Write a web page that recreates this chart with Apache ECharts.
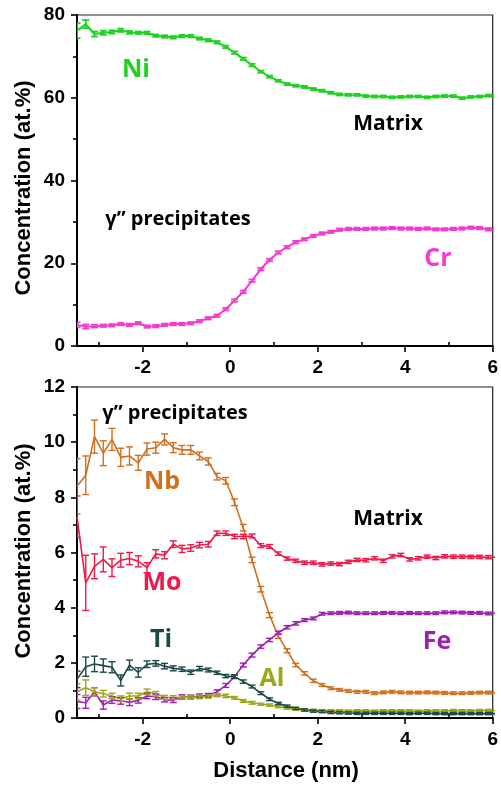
<!DOCTYPE html>
<html>
<head>
<meta charset="utf-8">
<script src="https://cdn.jsdelivr.net/npm/echarts@6.0.0/dist/echarts.min.js"></script>
<style>
  html, body { margin: 0; padding: 0; background: #fff; }
  #chart { width: 501px; height: 789px; }
</style>
</head>
<body>
<div id="chart"></div>
<script>
// Distance along the profile (nm)
const distance = [-3.5, -3.3, -3.1, -2.9, -2.7, -2.5, -2.3, -2.1, -1.9, -1.7, -1.5, -1.3, -1.1, -0.9, -0.7, -0.5, -0.3, -0.1,
  0.1, 0.3, 0.5, 0.7, 0.9, 1.1, 1.3, 1.5, 1.7, 1.9, 2.1, 2.3, 2.5, 2.7, 2.9, 3.1, 3.3, 3.5, 3.7, 3.9,
  4.1, 4.3, 4.5, 4.7, 4.9, 5.1, 5.3, 5.5, 5.7, 5.9, 6.1];

// Major elements (at.%)
const ni = [76.2, 77.8, 75.4, 75.7, 75.9, 76.3, 75.8, 75.7, 75.7, 75.0, 74.8, 74.6, 74.9, 74.9, 74.3, 73.9, 73.4, 72.3,
  70.9, 69.4, 67.9, 66.3, 65.1, 64.1, 63.3, 62.9, 62.6, 62.1, 61.7, 61.2, 60.8, 60.7, 60.7, 60.4, 60.3, 60.3, 60.1, 60.2,
  60.3, 60.3, 60.1, 60.3, 60.4, 60.4, 59.9, 60.2, 60.3, 60.5, 60.5];
const niErr = [1.8, 1.0, 0.6, 0.5, 0.4, 0.4, 0.35, 0.3, 0.3, 0.3, 0.3, 0.3, 0.3, 0.3, 0.3, 0.3, 0.3, 0.3,
  0.3, 0.3, 0.3, 0.25, 0.25, 0.25, 0.25, 0.25, 0.25, 0.25, 0.25, 0.25, 0.25, 0.25, 0.25, 0.25, 0.25, 0.25, 0.25, 0.25,
  0.25, 0.25, 0.25, 0.25, 0.25, 0.25, 0.25, 0.25, 0.25, 0.25, 0.25];
const cr = [5.1, 4.7, 4.8, 4.9, 5.0, 5.3, 5.1, 5.5, 4.7, 4.8, 5.1, 5.3, 5.3, 5.5, 6.0, 6.7, 7.3, 8.9,
  11.0, 13.1, 15.8, 18.6, 20.8, 22.6, 23.9, 25.1, 25.8, 26.6, 27.2, 27.6, 28.1, 28.3, 28.3, 28.3, 28.4, 28.4, 28.5, 28.4,
  28.4, 28.3, 28.4, 28.2, 28.2, 28.3, 28.4, 28.6, 28.5, 28.2, 28.1];
const crErr = [0.6, 0.5, 0.35, 0.3, 0.3, 0.3, 0.3, 0.3, 0.3, 0.3, 0.3, 0.3, 0.3, 0.3, 0.3, 0.3, 0.3, 0.3,
  0.3, 0.3, 0.3, 0.3, 0.3, 0.3, 0.3, 0.3, 0.3, 0.3, 0.3, 0.3, 0.3, 0.3, 0.3, 0.3, 0.3, 0.3, 0.3, 0.3,
  0.3, 0.3, 0.3, 0.3, 0.3, 0.3, 0.3, 0.3, 0.3, 0.3, 0.3];

// Minor elements (at.%)
const nb = [8.4, 8.8, 10.2, 9.6, 10.1, 9.45, 9.5, 9.25, 9.75, 9.8, 10.1, 9.8, 9.72, 9.72, 9.5, 9.3, 8.75, 8.6,
  7.82, 6.9, 5.73, 4.67, 3.73, 2.97, 2.44, 1.92, 1.62, 1.35, 1.2, 1.08, 1.02, 0.98, 0.95, 0.95, 0.9, 0.93, 0.95, 0.93,
  0.92, 0.92, 0.93, 0.92, 0.91, 0.9, 0.9, 0.91, 0.92, 0.92, 0.92];
const nbErr = [1.0, 0.7, 0.6, 0.45, 0.4, 0.33, 0.33, 0.27, 0.22, 0.2, 0.2, 0.18, 0.16, 0.16, 0.14, 0.13, 0.12, 0.12,
  0.12, 0.12, 0.1, 0.1, 0.09, 0.08, 0.07, 0.06, 0.06, 0.06, 0.05, 0.05, 0.05, 0.05, 0.05, 0.05, 0.05, 0.05, 0.05, 0.05,
  0.05, 0.05, 0.05, 0.05, 0.05, 0.05, 0.05, 0.05, 0.05, 0.05, 0.05];
const mo = [7.3, 4.9, 5.5, 5.75, 5.45, 5.72, 5.78, 5.68, 5.45, 5.95, 5.9, 6.3, 6.13, 6.16, 6.27, 6.3, 6.7, 6.7,
  6.58, 6.58, 6.6, 6.25, 6.22, 5.96, 5.78, 5.7, 5.63, 5.63, 5.57, 5.6, 5.58, 5.66, 5.73, 5.72, 5.79, 5.7, 5.86, 5.91,
  5.75, 5.79, 5.85, 5.8, 5.86, 5.85, 5.85, 5.84, 5.84, 5.83, 5.83];
const moErr = [0.75, 1.0, 0.45, 0.45, 0.32, 0.25, 0.22, 0.2, 0.18, 0.15, 0.13, 0.12, 0.13, 0.12, 0.1, 0.1, 0.08, 0.08,
  0.08, 0.08, 0.07, 0.07, 0.07, 0.06, 0.06, 0.06, 0.06, 0.06, 0.06, 0.06, 0.06, 0.06, 0.06, 0.06, 0.06, 0.06, 0.06, 0.06,
  0.06, 0.06, 0.06, 0.06, 0.06, 0.06, 0.06, 0.06, 0.06, 0.06, 0.06];
const ti = [1.4, 1.86, 1.96, 1.9, 1.84, 1.36, 1.92, 1.65, 1.95, 1.98, 1.88, 1.8, 1.77, 1.66, 1.79, 1.74, 1.64, 1.52,
  1.5, 1.32, 1.14, 0.9, 0.68, 0.53, 0.43, 0.35, 0.29, 0.25, 0.23, 0.2, 0.19, 0.18, 0.17, 0.17, 0.17, 0.17, 0.17, 0.17,
  0.16, 0.17, 0.17, 0.16, 0.16, 0.16, 0.16, 0.16, 0.16, 0.16, 0.16];
const tiErr = [0.3, 0.35, 0.28, 0.24, 0.2, 0.2, 0.18, 0.17, 0.12, 0.1, 0.1, 0.09, 0.08, 0.08, 0.08, 0.07, 0.06, 0.06,
  0.06, 0.06, 0.05, 0.05, 0.05, 0.04, 0.04, 0.04, 0.04, 0.04, 0.04, 0.04, 0.04, 0.04, 0.04, 0.04, 0.04, 0.04, 0.04, 0.04,
  0.04, 0.04, 0.04, 0.04, 0.04, 0.04, 0.04, 0.04, 0.04, 0.04, 0.04];
const al = [0.95, 1.1, 0.95, 0.88, 0.8, 0.7, 0.8, 0.8, 0.95, 0.88, 0.75, 0.74, 0.75, 0.76, 0.76, 0.78, 0.83, 0.8,
  0.73, 0.62, 0.55, 0.5, 0.47, 0.41, 0.36, 0.32, 0.3, 0.28, 0.27, 0.26, 0.26, 0.25, 0.26, 0.26, 0.25, 0.26, 0.26, 0.26,
  0.26, 0.25, 0.26, 0.26, 0.26, 0.27, 0.26, 0.26, 0.27, 0.27, 0.27];
const alErr = [0.3, 0.28, 0.15, 0.12, 0.1, 0.1, 0.1, 0.1, 0.1, 0.08, 0.07, 0.07, 0.06, 0.06, 0.06, 0.06, 0.06, 0.06,
  0.05, 0.05, 0.05, 0.04, 0.04, 0.04, 0.04, 0.04, 0.04, 0.04, 0.04, 0.04, 0.04, 0.04, 0.04, 0.04, 0.04, 0.04, 0.04, 0.04,
  0.04, 0.04, 0.04, 0.04, 0.04, 0.04, 0.04, 0.04, 0.04, 0.04, 0.04];
const fe = [0.6, 0.55, 0.95, 0.47, 0.65, 0.62, 0.57, 0.64, 0.8, 0.77, 0.66, 0.64, 0.76, 0.76, 0.8, 0.82, 0.95, 1.18,
  1.5, 1.92, 2.28, 2.59, 2.83, 3.09, 3.29, 3.43, 3.55, 3.61, 3.78, 3.8, 3.81, 3.82, 3.8, 3.8, 3.8, 3.81, 3.81, 3.8,
  3.81, 3.8, 3.8, 3.8, 3.83, 3.83, 3.82, 3.81, 3.81, 3.79, 3.8];
const feErr = [0.25, 0.2, 0.15, 0.15, 0.12, 0.12, 0.12, 0.1, 0.1, 0.1, 0.08, 0.08, 0.08, 0.07, 0.07, 0.07, 0.07, 0.07,
  0.07, 0.07, 0.07, 0.06, 0.06, 0.06, 0.06, 0.06, 0.05, 0.05, 0.05, 0.05, 0.05, 0.05, 0.05, 0.05, 0.05, 0.05, 0.05, 0.05,
  0.05, 0.05, 0.05, 0.05, 0.05, 0.05, 0.05, 0.05, 0.05, 0.05, 0.05];

// Axis ticks
const xMajorTicks = [-2, 0, 2, 4, 6];
const xMinorTicks = [-3, -1, 1, 3, 5];

const COLORS = {
  Ni: '#1fd21f', Cr: '#f53ad0', Nb: '#d0701e', Mo: '#f01848',
  Ti: '#1b4a48', Al: '#9ea616', Fe: '#a01eb4'
};

const TICK_FONT = { fontFamily: 'Liberation Sans, Arial, sans-serif', fontWeight: 'bold', fontSize: 19, color: '#000' };
const LABEL_FONT = '"Open Sans", sans-serif';

function xAxesFor(gridIndex) {
  return [
    {
      type: 'value', gridIndex, min: -3.5, max: 6,
      axisLine: { show: true, onZero: false, lineStyle: { color: '#000', width: 2 } },
      axisTick: { show: true, customValues: xMajorTicks, length: 6, lineStyle: { color: '#000', width: 1.6 } },
      axisLabel: Object.assign({ customValues: xMajorTicks, margin: 12 }, TICK_FONT),
      splitLine: { show: false }
    },
    {
      type: 'value', gridIndex, min: -3.5, max: 6,
      axisLine: { show: false },
      axisTick: { show: true, customValues: xMinorTicks, length: 4, lineStyle: { color: '#000', width: 1.6 } },
      axisLabel: { show: false },
      splitLine: { show: false }
    }
  ];
}

function yAxisFor(gridIndex, max, interval) {
  return {
    type: 'value', gridIndex, min: 0, max, interval,
    axisLine: { show: true, onZero: false, lineStyle: { color: '#000', width: 2 } },
    axisTick: { show: true, length: 6, lineStyle: { color: '#000', width: 1.6 } },
    minorTick: { show: true, splitNumber: 2, length: 4, lineStyle: { color: '#000', width: 1.6 } },
    axisLabel: Object.assign({ margin: 12 }, TICK_FONT),
    splitLine: { show: false },
    minorSplitLine: { show: false }
  };
}

function lineSeries(name, values, xAxisIndex, yAxisIndex, width) {
  return {
    name, type: 'line', xAxisIndex, yAxisIndex,
    data: distance.map((d, i) => [d, values[i]]),
    showSymbol: false, symbol: 'none', clip: true,
    lineStyle: { color: COLORS[name], width },
    z: 3
  };
}

function errorSeries(name, values, errors, xAxisIndex, yAxisIndex, width) {
  const color = COLORS[name];
  return {
    name: name + ' error', type: 'custom', xAxisIndex, yAxisIndex, clip: true,
    data: distance.map((d, i) => [d, values[i] - errors[i], values[i] + errors[i]]),
    encode: { x: 0, y: [1, 2] },
    renderItem(params, api) {
      const x = api.value(0);
      const top = api.coord([x, api.value(2)]);
      const bot = api.coord([x, api.value(1)]);
      const w = 3.5;
      const style = { stroke: color, lineWidth: width };
      return {
        type: 'group',
        children: [
          { type: 'line', shape: { x1: top[0], y1: top[1], x2: bot[0], y2: bot[1] }, style },
          { type: 'line', shape: { x1: top[0] - w, y1: top[1], x2: top[0] + w, y2: top[1] }, style },
          { type: 'line', shape: { x1: bot[0] - w, y1: bot[1], x2: bot[0] + w, y2: bot[1] }, style }
        ]
      };
    },
    z: 4
  };
}

function text(str, x, y, color, size, rotation) {
  return {
    type: 'text', x, y, rotation: rotation || 0,
    style: {
      text: str, fill: color, fontSize: size, fontWeight: 'bold',
      fontFamily: rotation !== undefined ? 'Liberation Sans, Arial, sans-serif' : LABEL_FONT,
      align: 'center', verticalAlign: 'middle'
    },
    z: 10
  };
}

const chart = echarts.init(document.getElementById('chart'), null, { renderer: 'canvas' });

const option = {
  animation: false,
  backgroundColor: '#fff',
  grid: [
    { left: 77, top: 15, width: 418, height: 331, show: true, borderColor: '#222', borderWidth: 1.2, backgroundColor: 'transparent' },
    { left: 77, top: 387, width: 418, height: 331, show: true, borderColor: '#222', borderWidth: 1.2, backgroundColor: 'transparent' }
  ],
  xAxis: [...xAxesFor(0), ...xAxesFor(1)],
  yAxis: [yAxisFor(0, 80, 20), yAxisFor(1, 12, 2)],
  series: [
    lineSeries('Ni', ni, 0, 0, 2), errorSeries('Ni', ni, niErr, 0, 0, 1.8),
    lineSeries('Cr', cr, 0, 0, 2), errorSeries('Cr', cr, crErr, 0, 0, 1.8),
    lineSeries('Nb', nb, 2, 1, 1.6), errorSeries('Nb', nb, nbErr, 2, 1, 1.4),
    lineSeries('Mo', mo, 2, 1, 1.6), errorSeries('Mo', mo, moErr, 2, 1, 1.4),
    lineSeries('Fe', fe, 2, 1, 1.6), errorSeries('Fe', fe, feErr, 2, 1, 1.4),
    lineSeries('Al', al, 2, 1, 1.6), errorSeries('Al', al, alErr, 2, 1, 1.4),
    lineSeries('Ti', ti, 2, 1, 1.6), errorSeries('Ti', ti, tiErr, 2, 1, 1.4)
  ],
  graphic: [
    text('Ni', 136, 70, COLORS.Ni, 25),
    text('Matrix', 388, 124, '#000', 21),
    text('γ” precipitates', 178, 219, '#000', 20),
    text('Cr', 438, 259, COLORS.Cr, 25),
    text('γ” precipitates', 175, 413, '#000', 20),
    text('Nb', 162, 482, COLORS.Nb, 25),
    text('Matrix', 388, 519, '#000', 21),
    text('Mo', 162, 583, COLORS.Mo, 25),
    text('Ti', 161, 640, COLORS.Ti, 25),
    text('Al', 272, 679, COLORS.Al, 25),
    text('Fe', 437, 642, COLORS.Fe, 25),
    text('Concentration (at.%)', 24, 188, '#000', 22, Math.PI / 2),
    text('Concentration (at.%)', 24, 551, '#000', 22, Math.PI / 2),
    text('Distance (nm)', 286, 771, '#000', 22, 0)
  ]
};

chart.setOption(option);
</script>
</body>
</html>
